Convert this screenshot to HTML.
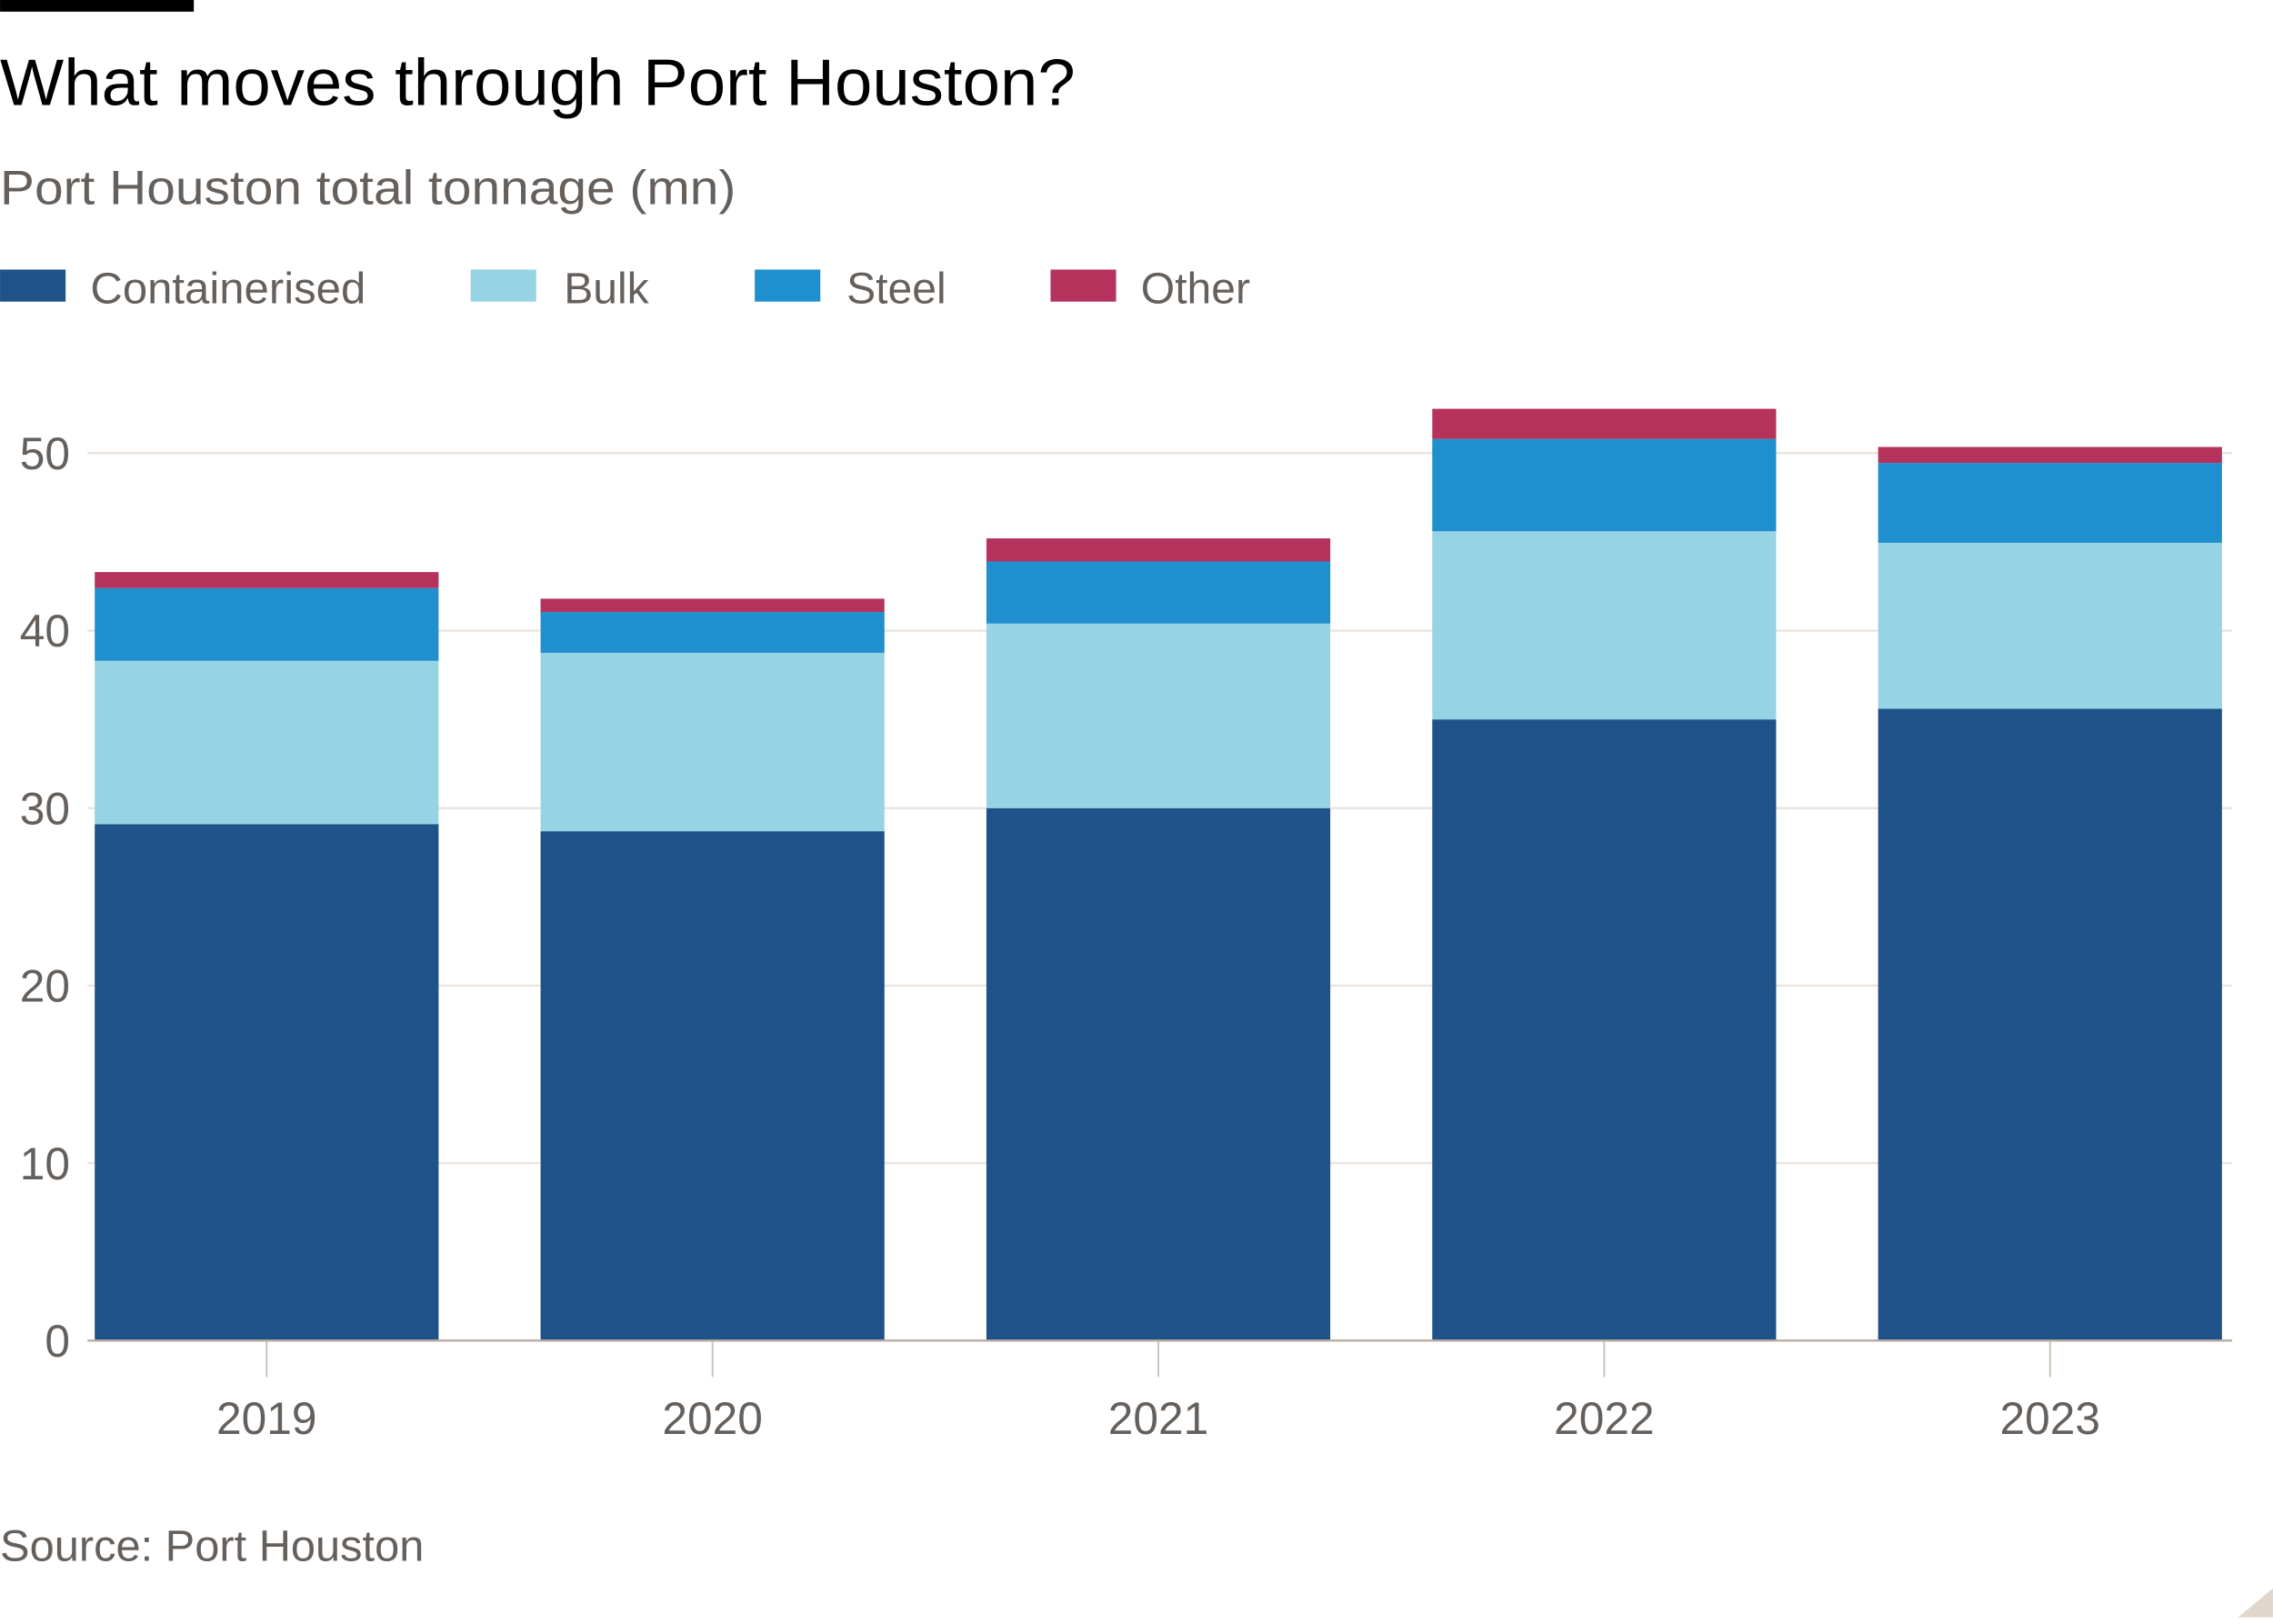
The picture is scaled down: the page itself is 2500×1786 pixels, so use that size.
<!DOCTYPE html>
<html><head><meta charset="utf-8"><style>
html,body{margin:0;padding:0;background:#fff;}
svg{display:block;}
text{font-family:"Liberation Sans",sans-serif;}
</style></head><body>
<svg id="chart" width="2500" height="1786" viewBox="0 0 1560 1114.5">
<rect x="0" y="0" width="133" height="8" fill="#000"/>
<text x="0" y="72" font-size="45" fill="#000" textLength="738" lengthAdjust="spacingAndGlyphs">What moves through Port Houston?</text>
<text x="0" y="140" font-size="33" fill="#66605c" textLength="505" lengthAdjust="spacingAndGlyphs">Port Houston total tonnage (mn)</text>
<g>
<g><rect x="0" y="185" width="45" height="22" fill="#1f5289"/><text x="62" y="208" font-size="30" fill="#66605c" textLength="189" lengthAdjust="spacingAndGlyphs">Containerised</text></g>
<g><rect x="323" y="185" width="45" height="22" fill="#96d3e5"/><text x="387" y="208" font-size="30" fill="#66605c">Bulk</text></g>
<g><rect x="518" y="185" width="45" height="22" fill="#1f8fce"/><text x="581" y="208" font-size="30" fill="#66605c">Steel</text></g>
<g><rect x="721" y="185" width="45" height="22" fill="#b5325c"/><text x="783" y="208" font-size="30" fill="#66605c">Other</text></g>
</g>
<g id="grid"></g>
<g id="bars"></g>
<g id="axes"></g>
<text x="0" y="1071" font-size="30" fill="#66605c" textLength="291" lengthAdjust="spacingAndGlyphs">Source: Port Houston</text>
<polygon points="1560,1090 1560,1110 1536,1110" fill="#e0d6cc"/>
</svg>
<script>
const categories = ["2019","2020","2021","2022","2023"];
const containerised = [29.1, 28.7, 30.0, 35.0, 35.6];
const bulk = [9.2, 10.05, 10.4, 10.6, 9.35];
const steel = [4.1, 2.3, 3.5, 5.2, 4.5];
const other = [0.9, 0.75, 1.3, 1.7, 0.9];
const yTicks = [0, 10, 20, 30, 40, 50];
const seriesNames = ["containerised","bulk","steel","other"];
const seriesColors = ["#1f5289","#96d3e5","#1f8fce","#b5325c"];

const NS = "http://www.w3.org/2000/svg";
const y0 = 920, yPer = 12.18;
const yScale = v => y0 - v * yPer;
const xLeft = 65, step = 306, barW = 236;
const xScale = i => xLeft + i * step;

const grid = document.getElementById('grid');
const axes = document.getElementById('axes');
const bars = document.getElementById('bars');

yTicks.forEach(t => {
  if (t > 0) {
    const l = document.createElementNS(NS, 'line');
    l.setAttribute('x1', 60); l.setAttribute('x2', 1532);
    l.setAttribute('y1', yScale(t)); l.setAttribute('y2', yScale(t));
    l.setAttribute('stroke', '#ebe4de'); l.setAttribute('stroke-width', 1.5);
    
    
    grid.appendChild(l);
  }
  const tx = document.createElementNS(NS, 'text');
  tx.setAttribute('x', 48); tx.setAttribute('y', yScale(t) + 11);
  tx.setAttribute('text-anchor', 'end'); tx.setAttribute('font-size', 31);
  tx.setAttribute('fill', '#66605c');
  tx.textContent = t;
  
  
  axes.appendChild(tx);
});

const series = [containerised, bulk, steel, other];
categories.forEach((c, i) => {
  let base = 0;
  series.forEach((s, k) => {
    const v = s[i];
    const r = document.createElementNS(NS, 'rect');
    r.setAttribute('x', xScale(i)); r.setAttribute('width', barW);
    r.setAttribute('y', yScale(base + v)); r.setAttribute('height', v * yPer);
    r.setAttribute('fill', seriesColors[k]);
    
    
    bars.appendChild(r);
    base += v;
  });
  const cx = xScale(i) + barW / 2;
  const tk = document.createElementNS(NS, 'line');
  tk.setAttribute('x1', cx); tk.setAttribute('x2', cx);
  tk.setAttribute('y1', y0); tk.setAttribute('y2', 945);
  tk.setAttribute('stroke', '#ccc1b7'); tk.setAttribute('stroke-width', 1.2);
  
  
  axes.appendChild(tk);
  const lb = document.createElementNS(NS, 'text');
  lb.setAttribute('x', cx); lb.setAttribute('y', 984);
  lb.setAttribute('text-anchor', 'middle'); lb.setAttribute('font-size', 31);
  lb.setAttribute('fill', '#66605c');
  lb.textContent = c;
  
  
  axes.appendChild(lb);
});
const ax = document.createElementNS(NS, 'line');
ax.setAttribute('x1', 60); ax.setAttribute('x2', 1532);
ax.setAttribute('y1', y0); ax.setAttribute('y2', y0);
ax.setAttribute('stroke', '#b8ada5'); ax.setAttribute('stroke-width', 1.5);


axes.appendChild(ax);
</script>
</body></html>
